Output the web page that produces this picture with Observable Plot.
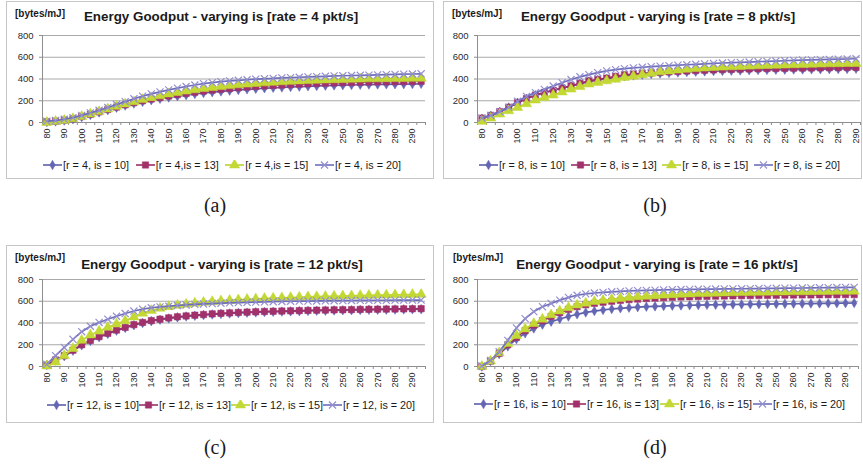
<!DOCTYPE html>
<html><head><meta charset="utf-8">
<script src="https://cdn.jsdelivr.net/npm/d3@7"></script>
<script src="https://cdn.jsdelivr.net/npm/@observablehq/plot@0.6"></script>
<style>
html,body{margin:0;padding:0;background:#fff;}
body{width:863px;height:466px;overflow:hidden;position:relative;font-family:"Liberation Sans",Arial,sans-serif;color:#1a1a1a;}
.box{position:absolute;border:1px solid #c6c6c6;box-sizing:border-box;background:#fff;}
.abs{position:absolute;white-space:nowrap;}
.title{font-weight:bold;font-size:13.4px;transform:translate(-50%,-50%);}
.unit{font-weight:bold;font-size:10px;transform:translateY(-50%);}
.legend{position:absolute;display:flex;justify-content:space-between;align-items:center;transform:translateY(-50%);font-size:10.8px;white-space:nowrap;}
.item{display:flex;align-items:center;}
.item svg{margin-right:1px;}
.cap{font-family:"Liberation Serif","DejaVu Serif",serif;font-size:20px;transform:translate(-50%,-50%);}
.plotwrap{position:absolute;}
</style>
</head><body>
<script>
// ---- data ----
const cats44 = [80,85,90,95,100,105,110,115,120,125,130,135,140,145,150,155,160,165,170,175,180,185,190,195,200,205,210,215,220,225,230,235,240,245,250,255,260,265,270,275,280,285,290,295];
const cats43 = [80,85,90,95,100,105,110,115,120,125,130,135,140,145,150,155,160,165,170,175,180,185,190,195,200,205,210,215,220,225,230,235,240,245,250,255,260,265,270,275,280,285,290];
const xTickLabels = [80,90,100,110,120,130,140,150,160,170,180,190,200,210,220,230,240,250,260,270,280,290];
const yTicks = [0,200,400,600,800];

// rate = 4 pkt/s
const r4_is10 = [5,10,18,30,50,70,92,114,136,156,174,190,205,218,230,242,252,262,271,279,286,293,299,305,310,315,319,323,327,330,333,336,339,341,343,345,347,349,350,351,352,353,354,356];
const r4_is13 = [8,12,22,35,55,75,98,120,142,163,182,200,216,230,244,257,268,279,289,298,306,313,320,326,332,337,341,345,349,353,356,359,362,364,366,368,370,372,374,375,376,377,378,380];
const r4_is15 = [0,10,20,35,55,78,100,124,148,170,190,210,228,245,262,276,289,301,312,322,331,339,346,353,359,364,369,374,378,382,385,388,391,393,395,397,399,401,402,403,404,405,406,407];
const r4_is20 = [12,18,30,45,65,88,112,138,165,192,218,242,263,282,300,316,331,345,357,367,375,382,388,393,398,402,406,410,413,416,419,422,425,428,430,432,434,436,438,440,442,444,446,448];
// rate = 8 pkt/s
const r8_is10 = [35,62,98,138,182,218,250,274,295,315,334,355,376,390,402,414,425,433,440,446,451,456,460,464,467,470,473,475,477,479,481,483,484,485,486,487,488,489,490,491,492,493,494];
const r8_is13 = [40,65,100,140,184,220,252,276,297,318,337,360,383,396,408,424,439,445,451,456,461,466,470,474,478,481,484,487,489,491,493,495,497,498,499,500,501,502,503,504,505,506,507];
const r8_is15 = [10,40,77,108,138,172,206,229,252,280,307,330,353,368,383,398,414,426,439,452,466,474,482,489,497,501,505,509,512,515,518,521,524,526,528,531,533,535,537,539,540,542,543];
const r8_is20 = [40,65,100,140,195,240,275,305,335,365,395,420,440,458,475,486,495,502,508,513,518,523,527,531,535,539,543,547,550,553,556,559,562,565,568,571,574,576,578,580,582,584,586];
// rate = 12 pkt/s
const r12_is10 = [15,55,95,145,195,235,270,300,330,355,380,400,417,430,442,452,460,467,473,479,484,488,492,495,498,501,503,505,507,509,511,513,514,516,517,518,520,521,522,523,524,525,526,527];
const r12_is13 = [10,60,100,150,200,240,275,305,335,360,385,405,422,435,447,457,465,472,478,484,489,493,497,500,503,506,508,510,512,514,516,518,519,521,522,523,525,526,527,528,529,530,531,532];
const r12_is15 = [5,40,100,165,240,290,325,360,390,420,455,490,515,535,550,562,572,582,590,597,603,608,613,617,621,625,628,631,634,637,640,642,644,646,648,650,652,654,656,657,659,660,662,663];
const r12_is20 = [20,100,175,250,320,370,405,435,462,487,510,528,540,548,555,561,566,571,575,579,582,585,588,590,592,594,596,598,600,601,602,603,604,605,606,607,608,608,609,609,610,610,611,611];
// rate = 16 pkt/s
const r16_is10 = [0,50,115,185,252,305,350,385,412,437,460,480,497,510,520,529,535,541,546,550,553,556,559,561,563,565,567,568,569,570,571,572,573,574,575,576,577,578,579,580,581,582,583,584];
const r16_is13 = [0,50,120,200,268,330,380,420,460,495,525,550,568,581,591,600,608,615,620,625,629,633,636,639,641,643,645,647,648,650,651,652,653,654,655,656,657,658,658,659,660,660,661,661];
const r16_is15 = [0,50,125,210,285,345,395,435,475,510,540,565,582,597,608,618,626,633,640,646,651,656,660,664,667,670,672,674,676,678,680,681,682,683,684,685,686,687,688,689,690,691,691,692];
const r16_is20 = [5,55,135,240,355,440,505,550,580,610,635,655,668,676,682,687,691,695,698,700,702,704,706,708,709,710,711,712,713,714,715,716,717,718,719,720,721,722,723,724,725,726,727,728];

const isValues = [10,13,15,20];
const rates = [4,8,12,16];
const captions = ["(a)","(b)","(c)","(d)"];
const legendLabelsA = ["[r = 4, is = 10]","[r = 4,is = 13]","[r = 4,is = 15]","[r = 4, is = 20]"];

// ---- styles ----
const styles = [
  {line:"#5d5fa8", fill:"#6466b4", symbol:"diamond", d3sym:d3.symbolDiamond, r:2.9},
  {line:"#9b2f66", fill:"#a1306b", symbol:"square", d3sym:d3.symbolSquare, r:3.6},
  {line:"#b9d22e", fill:"#c3d834", symbol:"triangle", d3sym:d3.symbolTriangle, r:3.8},
  {line:"#6e6fbb", fill:"#958fd0", symbol:"times", d3sym:d3.symbolTimes, r:3.3}
];

const panels = [
  {box:{x:6,y:1,w:428,h:178}, px0:42, px1:425, py0:35, py1:122, cats:cats44,
   series:[r4_is10,r4_is13,r4_is15,r4_is20], rate:rates[0], title:{cx:221,cy:16}, unit:{x:15,cy:13},
   legend:{x0:43,x1:401,cy:165}, labels:legendLabelsA, cap:{t:captions[0],cx:215,cy:205}},
  {box:{x:443,y:1,w:419,h:178}, px0:477, px1:860, py0:35, py1:122, cats:cats43,
   series:[r8_is10,r8_is13,r8_is15,r8_is20], rate:rates[1], title:{cx:658,cy:16}, unit:{x:452,cy:13},
   legend:{x0:479,x1:840,cy:165}, cap:{t:captions[1],cx:655,cy:205}},
  {box:{x:6,y:245,w:428,h:178}, px0:42, px1:425, py0:279, py1:366, cats:cats44,
   series:[r12_is10,r12_is13,r12_is15,r12_is20], rate:rates[2], title:{cx:222,cy:264}, unit:{x:15,cy:257},
   legend:{x0:47,x1:405,cy:405}, cap:{t:captions[2],cx:215,cy:447}},
  {box:{x:443,y:245,w:419,h:178}, px0:477, px1:858, py0:279, py1:366, cats:cats44,
   series:[r16_is10,r16_is13,r16_is15,r16_is20], rate:rates[3], title:{cx:657,cy:264}, unit:{x:453,cy:257},
   legend:{x0:474,x1:845,cy:404}, cap:{t:captions[3],cx:655,cy:447}}
];

function el(tag, cls, css, text){
  const e = document.createElement(tag);
  if (cls) e.className = cls;
  if (css) Object.assign(e.style, css);
  if (text != null) e.textContent = text;
  document.body.appendChild(e);
  return e;
}

function swatch(st){
  const ns = "http://www.w3.org/2000/svg";
  const s = document.createElementNS(ns,"svg");
  s.setAttribute("width","19"); s.setAttribute("height","10");
  const l = document.createElementNS(ns,"line");
  l.setAttribute("x1","0"); l.setAttribute("x2","19"); l.setAttribute("y1","5"); l.setAttribute("y2","5");
  l.setAttribute("stroke", st.line); l.setAttribute("stroke-width","1.6");
  s.appendChild(l);
  const p = document.createElementNS(ns,"path");
  p.setAttribute("d", d3.symbol(st.d3sym, Math.PI*st.r*st.r)());
  p.setAttribute("transform","translate(9.5,5)");
  if (st.symbol === "times") { p.setAttribute("fill","none"); p.setAttribute("stroke", st.fill); p.setAttribute("stroke-width","1.2"); }
  else { p.setAttribute("fill", st.fill); p.setAttribute("stroke", st.fill); p.setAttribute("stroke-width","0.5"); }
  s.appendChild(p);
  return s;
}

panels.forEach((p) => {
  el("div","box",{left:p.box.x+"px",top:p.box.y+"px",width:p.box.w+"px",height:p.box.h+"px"});
  el("div","abs unit",{left:p.unit.x+"px",top:p.unit.cy+"px"},"[bytes/mJ]");
  el("div","abs title",{left:p.title.cx+"px",top:p.title.cy+"px"},`Energy Goodput - varying is [rate = ${p.rate} pkt/s]`);

  const rows = [];
  p.series.forEach((vals,k) => vals.forEach((v,i) => rows.push({x:p.cats[i], y:v, s:k})));
  const n = p.cats.length;
  const lo = p.cats[0]-2.5, hi = p.cats[n-1]+2.5;
  const bounds = p.cats.map(c => c-2.5).concat([hi]);
  const mL = 40, mR = 3, mT = 8, mB = 32;
  const W = p.px1 - p.px0 + mL + mR, H = p.py1 - p.py0 + mT + mB;

  const marks = [
    Plot.ruleY([200,400,600,800], {stroke:"#a9a9a9", strokeWidth:1}),
    Plot.ruleY([0], {stroke:"#8e8e8e"}),
    Plot.ruleX([lo], {y1:0, y2:800, stroke:"#8e8e8e"}),
    Plot.text(xTickLabels, {x:d=>d, y:0, rotate:-90, textAnchor:"end", dy:6, fontSize:9, fill:"#2a2a2a"})
  ];
  styles.forEach((st,k) => {
    const d = rows.filter(r => r.s === k);
    marks.push(Plot.line(d, {x:"x", y:"y", stroke:st.line, strokeWidth:1.7}));
    if (st.symbol === "times")
      marks.push(Plot.dot(d, {x:"x", y:"y", symbol:()=>st.symbol, r:st.r, stroke:st.fill, strokeWidth:1.2, fill:"none"}));
    else
      marks.push(Plot.dot(d, {x:"x", y:"y", symbol:()=>st.symbol, r:st.r, fill:st.fill, stroke:st.fill, strokeWidth:0.5}));
  });

  const svg = Plot.plot({
    width:W, height:H, marginLeft:mL, marginRight:mR, marginTop:mT, marginBottom:mB,
    x:{type:"linear", domain:[lo,hi], ticks:bounds, tickSize:3, tickFormat:()=>"", label:null},
    y:{domain:[0,800], ticks:yTicks, tickSize:3, tickPadding:6, label:null},
    symbol:{type:"identity"},
    style:{fontFamily:"Liberation Sans, Arial, sans-serif", fontSize:"9.5px", color:"#2a2a2a", background:"transparent", overflow:"visible"},
    marks
  });
  svg.querySelectorAll("g[aria-label^='x-axis'] line, g[aria-label^='x-axis'] path, g[aria-label^='y-axis'] line, g[aria-label^='y-axis'] path")
    .forEach(e => e.setAttribute("stroke","#8e8e8e"));
  const wrap = el("div","plotwrap",{left:(p.px0-mL)+"px", top:(p.py0-mT)+"px", width:W+"px", height:H+"px"});
  wrap.appendChild(svg);

  const lg = el("div","legend",{left:p.legend.x0+"px", width:(p.legend.x1-p.legend.x0)+"px", top:p.legend.cy+"px"});
  styles.forEach((st,k) => {
    const it = document.createElement("div"); it.className = "item";
    it.appendChild(swatch(st));
    const t = document.createElement("span");
    t.textContent = p.labels ? p.labels[k] : `[r = ${p.rate}, is = ${isValues[k]}]`;
    it.appendChild(t);
    lg.appendChild(it);
  });

  el("div","abs cap",{left:p.cap.cx+"px", top:p.cap.cy+"px"}, p.cap.t);
});
</script>
</body></html>
